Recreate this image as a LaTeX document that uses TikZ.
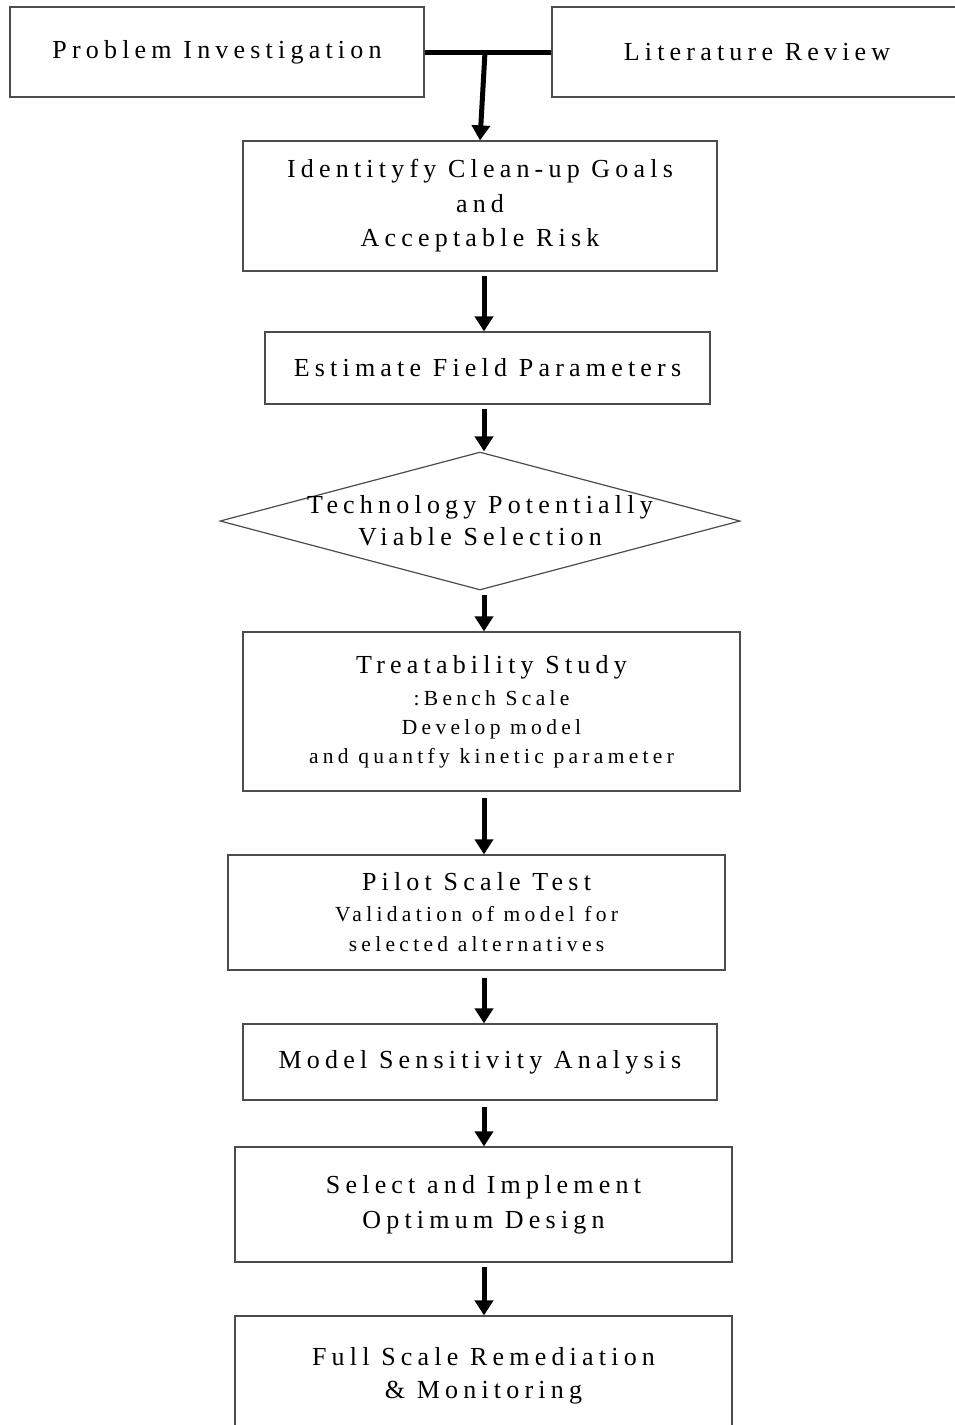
\documentclass[tikz,border=0pt]{standalone}
\usepackage{fontspec}
\setmainfont{Liberation Serif}[LetterSpace=20]
\usetikzlibrary{arrows.meta,shapes.geometric}
\newcommand{\bigtxt}{\fontsize{26}{35}\selectfont}
\newcommand{\smalltxt}{\fontsize{21.5}{35}\selectfont}
\begin{document}
\begin{tikzpicture}[x=1pt,y=-1pt,
  box/.style={draw=black!70, line width=1.2pt, inner sep=0pt, align=center, font=\bigtxt},
  flow/.style={line width=5pt, -{Triangle[width=18pt,length=15pt]}, shorten <=4pt}]
\useasboundingbox (0,0) rectangle (954,1425);
\fill[white] (0,0) rectangle (954,1425);
\node[box, minimum width=414, minimum height=90] (pi) at (217,52) {Problem Investigation};
\node[box, minimum width=410, minimum height=90] (lr) at (757,52) {Literature Review};
\node[box, minimum width=474, minimum height=130] (id) at (480,206) {Identityfy Clean-up Goals\\and\\[-1pt]Acceptable Risk};
\node[box, minimum width=445, minimum height=72] (es) at (487.5,368) {Estimate Field Parameters};
\node[draw=black!70, line width=1.2pt, shape=diamond, inner sep=0pt, minimum width=520, minimum height=138] (tv) at (480,521) {};
\node[align=center, font=\bigtxt, inner sep=0pt] (tvt) at (tv.center) {Technology Potentially\\[-3pt]Viable Selection};
\node[box, minimum width=497, minimum height=159] (tr) at (491.5,711.5) {Treatability Study\\[-3pt]{\smalltxt :Bench Scale}\\[-6pt]{\smalltxt Develop model}\\[-6pt]{\smalltxt and quantfy kinetic parameter}};
\node[box, minimum width=497, minimum height=115] (pl) at (476.5,912.5) {Pilot Scale Test\\[-4pt]{\smalltxt Validation of model for}\\[-5pt]{\smalltxt selected alternatives}};
\node[box, minimum width=474, minimum height=76] (ms) at (480,1062) {Model Sensitivity Analysis};
\node[box, minimum width=497, minimum height=115] (se) at (483.5,1204.5) {Select and Implement\\Optimum Design};
\node[box, minimum width=497, minimum height=119] (fs) at (483.5,1375.5) {Full Scale Remediation\\[-2pt]\& Monitoring};
\coordinate (col) at (484,0);
\coordinate (j) at (485,52);
\draw[line width=5pt] (pi.east) -- (lr.west);
\draw[line width=5pt, -{Triangle[width=18pt,length=15pt]}] (j) -- (id.north);
\draw[flow] (id.south -| col) -- (es.north -| col);
\draw[flow] (es.south -| col) -- (tv.north -| col);
\draw[flow] (tv.south -| col) -- (tr.north -| col);
\draw[flow] (tr.south -| col) ++(0,2) -- (pl.north -| col);
\draw[flow] (pl.south -| col) ++(0,3) -- (ms.north -| col);
\draw[flow] (ms.south -| col) ++(0,2) -- (se.north -| col);
\draw[flow] (se.south -| col) -- (fs.north -| col);
\end{tikzpicture}
\end{document}
